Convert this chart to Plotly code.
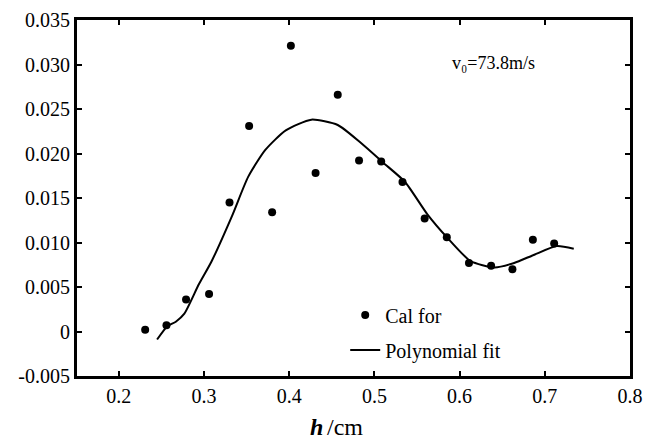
import plotly.graph_objects as go

# Calculated points
h_cal = [0.231, 0.256, 0.279, 0.306, 0.330, 0.353, 0.380, 0.402, 0.431, 0.457,
         0.482, 0.508, 0.533, 0.559, 0.585, 0.611, 0.637, 0.662, 0.686, 0.711]
v_cal = [0.0002, 0.0007, 0.0036, 0.0042, 0.0145, 0.0231, 0.0134, 0.0321, 0.0178, 0.0266,
         0.0192, 0.0191, 0.0168, 0.0127, 0.0106, 0.0077, 0.0074, 0.0070, 0.0103, 0.0099]

# Polynomial fit curve
h_fit = [0.245, 0.257, 0.267, 0.277, 0.294, 0.309, 0.333, 0.352, 0.372, 0.396, 0.426,
         0.457, 0.484, 0.510, 0.536, 0.562, 0.586, 0.613, 0.641, 0.664, 0.687, 0.714, 0.734]
v_fit = [-0.0009, 0.0006, 0.0011, 0.0020, 0.0053, 0.0079, 0.0130, 0.0174, 0.0204, 0.0226, 0.0238,
         0.0232, 0.0212, 0.0190, 0.0168, 0.0132, 0.0105, 0.0079, 0.0072, 0.0077, 0.0086, 0.0096, 0.0093]

x_ticks = [0.2, 0.3, 0.4, 0.5, 0.6, 0.7, 0.8]
y_ticks = [-0.005, 0, 0.005, 0.010, 0.015, 0.020, 0.025, 0.030, 0.035]
y_tick_text = ["-0.005", "0", "0.005", "0.010", "0.015", "0.020", "0.025", "0.030", "0.035"]

font = "Times New Roman, Liberation Serif, serif"

fig = go.Figure()
fig.add_trace(go.Scatter(x=h_cal, y=v_cal, mode="markers", name="Cal for",
                         marker=dict(color="black", size=8), legendgroup="a"))
fig.add_trace(go.Scatter(x=h_fit, y=v_fit, mode="lines", name="Polynomial fit",
                         line=dict(color="black", width=2, shape="spline", smoothing=0.6),
                         legendgroup="b"))

fig.update_xaxes(range=[0.151, 0.8], tickvals=x_ticks, ticktext=[str(t) for t in x_ticks],
                 showline=True, linecolor="black", linewidth=3, mirror="ticks",
                 ticks="inside", ticklen=5, tickwidth=2, tickcolor="black",
                 showgrid=False, zeroline=False, automargin=False,
                 tickfont=dict(family=font, size=20, color="black"))
fig.update_yaxes(range=[-0.005, 0.035], tickvals=y_ticks, ticktext=y_tick_text,
                 showline=True, linecolor="black", linewidth=3, mirror="ticks",
                 ticks="inside", ticklen=5, tickwidth=2, tickcolor="black",
                 showgrid=False, zeroline=False, automargin=False,
                 tickfont=dict(family=font, size=20, color="black"))

# x-axis title: bold italic "h" followed by "/cm"
fig.add_annotation(x=0.4485, y=-0.143, xref="paper", yref="paper", showarrow=False,
                   text="h", xanchor="right", yanchor="middle",
                   font=dict(family=font, size=24, color="black", weight="bold", style="italic"))
fig.add_annotation(x=0.4485, y=-0.143, xref="paper", yref="paper", showarrow=False,
                   text="/cm", xanchor="left", yanchor="middle",
                   font=dict(family=font, size=24, color="black"))

fig.add_annotation(x=0.589, y=0.0302, xref="x", yref="y", showarrow=False,
                   text="v\u2080=73.8m/s", xanchor="left",
                   font=dict(family=font, size=18, color="black"))

fig.update_layout(
    width=661, height=441,
    margin=dict(l=69, r=39, t=12, b=73),
    font=dict(family=font, color="black"),
    paper_bgcolor="white", plot_bgcolor="white",
    showlegend=True,
    legend=dict(x=0.485, y=0.226, xanchor="left", yanchor="top",
                bgcolor="rgba(0,0,0,0)", traceorder="grouped", tracegroupgap=6,
                font=dict(family=font, size=20, color="black")),
)

fig.write_html("out.html")
